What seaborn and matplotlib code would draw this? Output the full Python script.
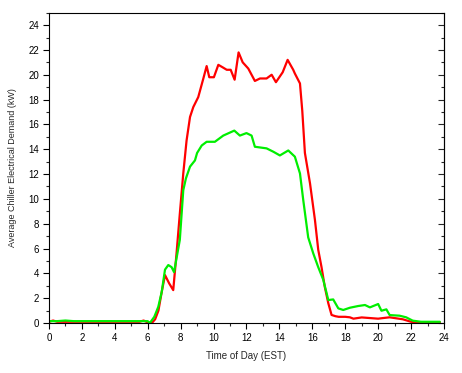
import matplotlib
matplotlib.use("Agg")
import matplotlib.pyplot as plt
import seaborn as sns
import pandas as pd
from matplotlib.ticker import MultipleLocator

sns.set_style("white")
plt.rcParams['font.family'] = ['Liberation Sans', 'DejaVu Sans']

red_t = [0, 0.25, 0.5, 1, 1.5, 2, 2.5, 3, 3.5, 4, 4.5, 5, 5.5, 5.75, 6.0, 6.25, 6.45, 6.65,
         6.85, 7.05, 7.3, 7.55, 7.75, 7.95, 8.16, 8.36, 8.57, 8.77, 9.07, 9.38, 9.58, 9.74, 10.02,
         10.29, 10.55, 10.8, 11.04, 11.28, 11.52, 11.77, 12.11, 12.51, 12.82, 13.22, 13.53,
         13.79, 14.2, 14.5, 14.84, 14.94, 15.25, 15.39, 15.55, 15.86, 16.16, 16.36, 16.56, 16.76,
         16.97, 17.17, 17.4, 17.6, 18.0, 18.28, 18.5, 19.0, 19.5, 20.0, 20.3, 20.7, 21.0, 21.5,
         22.0, 22.5, 23.0, 23.75]
red_v = [0.1, 0.2, 0.1, 0.1, 0.1, 0.1, 0.1, 0.1, 0.1, 0.1, 0.1, 0.1, 0.1, 0.2, 0.05, 0.0, 0.3, 1.0,
         2.5, 3.86, 3.2, 2.65, 5.6, 8.8, 12.05, 14.7, 16.6, 17.4, 18.2, 19.7, 20.7, 19.8, 19.8,
         20.8, 20.6, 20.4, 20.4, 19.6, 21.8, 21.0, 20.5, 19.5, 19.7, 19.7, 20.0,
         19.4, 20.2, 21.2, 20.4, 20.1, 19.3, 17.1, 13.7, 11.25, 8.3, 5.9, 4.5, 2.9,
         1.6, 0.65, 0.55, 0.5, 0.5, 0.46, 0.35, 0.45, 0.4, 0.35, 0.4, 0.46, 0.4, 0.3,
         0.1, 0.05, 0.05, 0.05]

green_t = [0, 0.5, 1, 1.5, 2, 2.5, 3, 3.5, 4, 4.5, 5, 5.5, 6.0, 6.13, 6.4, 6.64, 6.85, 7.05,
           7.25, 7.45, 7.6, 7.95, 8.16, 8.32, 8.57, 8.87, 9.0, 9.28, 9.58, 10.08, 10.59,
           11.26, 11.6, 12.0, 12.31, 12.51, 13.22, 13.63, 14.03, 14.54, 14.94, 15.25,
           15.45, 15.75, 16.06, 16.36, 16.66, 16.87, 16.97, 17.27, 17.58, 17.88, 18.28, 18.79, 19.2,
           19.5, 20.0, 20.2, 20.5, 20.7, 21.3, 21.7, 22.1, 22.6, 23.0, 23.75]
green_v = [0.15, 0.15, 0.2, 0.15, 0.15, 0.15, 0.15, 0.15, 0.15, 0.15, 0.15, 0.15, 0.15, 0.0, 0.5, 1.3, 2.5, 4.3,
           4.67, 4.5, 4.1, 6.7, 10.7, 11.65, 12.6, 13.1, 13.7, 14.3, 14.6, 14.6, 15.1,
           15.5, 15.1, 15.3, 15.1, 14.2, 14.07, 13.8, 13.5, 13.9, 13.4, 12.05,
           9.9, 6.9, 5.6, 4.5, 3.5, 2.4, 1.85, 1.9, 1.18, 1.05, 1.23, 1.37, 1.45,
           1.26, 1.53, 0.99, 1.1, 0.64, 0.59, 0.46, 0.19, 0.1, 0.1, 0.1]

df_red = pd.DataFrame({"t": red_t, "v": red_v})
df_green = pd.DataFrame({"t": green_t, "v": green_v})

fig = plt.figure(figsize=(4.62, 3.73), dpi=100)
ax = fig.add_axes([0.106, 0.134, 0.855, 0.832])

sns.lineplot(data=df_red, x="t", y="v", color="#ff0000", lw=1.6, sort=False, ax=ax)
sns.lineplot(data=df_green, x="t", y="v", color="#00ee00", lw=1.6, sort=False, ax=ax)

ax.set_xlim(0, 24)
ax.set_ylim(0, 25)
ax.xaxis.set_major_locator(MultipleLocator(2))
ax.xaxis.set_minor_locator(MultipleLocator(1))
ax.yaxis.set_major_locator(MultipleLocator(2))
ax.yaxis.set_minor_locator(MultipleLocator(1))
ax.set_yticks(range(0, 25, 2))
ax.tick_params(which='major', direction='out', length=4, width=0.8, labelsize=7,
               left=True, bottom=True, colors='black')
ax.tick_params(which='minor', direction='out', length=2, width=0.8, left=True, bottom=True)
ax.tick_params(axis='both', pad=3)

sec = ax.secondary_yaxis('right')
sec.yaxis.set_major_locator(MultipleLocator(2))
sec.yaxis.set_minor_locator(MultipleLocator(1))
sec.tick_params(which='major', direction='in', length=4, width=0.8, labelright=False)
sec.tick_params(which='minor', direction='in', length=2, width=0.8)
sec.spines['right'].set_linewidth(0.8)

for s in ax.spines.values():
    s.set_linewidth(0.8)
    s.set_color('black')

ax.set_xlabel("Time of Day (EST)", fontsize=7, labelpad=6)
ax.set_ylabel("Average Chiller Electrical Demand (kW)", fontsize=6.5, labelpad=8)
ax.grid(False)

fig.savefig("out.png", dpi=100)
